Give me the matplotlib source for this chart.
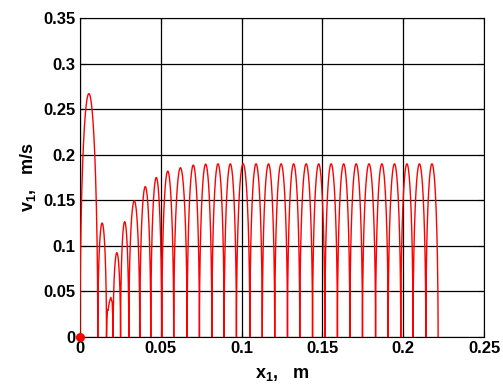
import numpy as np
import matplotlib
matplotlib.use("Agg")
import matplotlib.pyplot as plt
from matplotlib.ticker import FixedLocator

plt.rcParams['font.family'] = ['Liberation Sans', 'DejaVu Sans']
plt.rcParams['font.weight'] = 'bold'
plt.rcParams['mathtext.fontset'] = 'custom'
plt.rcParams['mathtext.rm'] = 'Liberation Sans:bold'
plt.rcParams['mathtext.bf'] = 'Liberation Sans:bold'
plt.rcParams['mathtext.default'] = 'bf'

# Positions (m) where the velocity touches zero (arch boundaries)
zeros_x = [0.0, 0.0110, 0.0164, 0.0205, 0.0251, 0.0302, 0.0370, 0.0438, 0.0506,
           0.0580, 0.0663, 0.0739, 0.0816, 0.0892, 0.0968, 0.1051, 0.1128,
           0.1205, 0.1284, 0.1360, 0.1439, 0.1515, 0.1593, 0.1670, 0.1748,
           0.1829, 0.1907, 0.1985, 0.2061, 0.2140, 0.2216]
# Peak velocity (m/s) of each arch
peaks_v = [0.267, 0.125, 0.0435, 0.0925, 0.1265, 0.1495, 0.165, 0.175, 0.182,
           0.1857, 0.1886, 0.1897, 0.190, 0.190, 0.190, 0.190, 0.190, 0.190,
           0.190, 0.190, 0.190, 0.190, 0.190, 0.190, 0.190, 0.190, 0.190,
           0.190, 0.190, 0.190]
# Third arch has a small kink; traced points
arch3_x = [0.0164, 0.01660, 0.01696, 0.01733, 0.01813, 0.01906, 0.01992, 0.0203, 0.0205]
arch3_v = [0.0, 0.018, 0.030, 0.029, 0.038, 0.0435, 0.038, 0.022, 0.0]

xs, vs = [], []
theta = np.linspace(0, np.pi, 80)
for i, h in enumerate(peaks_v):
    a, b = zeros_x[i], zeros_x[i + 1]
    if i == 2:
        xs.extend(arch3_x)
        vs.extend(arch3_v)
        continue
    mid, half = (a + b) / 2, (b - a) / 2
    xs.extend(mid - np.cos(theta) * half)
    vs.extend(h * np.sin(theta))

fig = plt.figure(figsize=(5.03, 3.85), dpi=100)
ax = fig.add_axes([80 / 503, 48 / 385, 404 / 503, 319 / 385])
ax.plot(xs, vs, color='red', lw=1.0, zorder=3)
ax.plot([0], [0], 'o', color='red', ms=5.5, zorder=4, clip_on=False)

ax.set_xlim(0, 0.25)
ax.set_ylim(0, 0.35)
ax.xaxis.set_major_locator(FixedLocator([0, 0.05, 0.1, 0.15, 0.2, 0.25]))
ax.yaxis.set_major_locator(FixedLocator([0, 0.05, 0.1, 0.15, 0.2, 0.25, 0.3, 0.35]))
ax.set_xticklabels(['0', '0.05', '0.1', '0.15', '0.2', '0.25'])
ax.set_yticklabels(['0', '0.05', '0.1', '0.15', '0.2', '0.25', '0.3', '0.35'])
ax.grid(True, color='black', lw=0.9, linestyle='-')
ax.set_axisbelow(True)
ax.tick_params(direction='in', length=4, labelsize=12, width=0.8,
               top=True, right=True, pad=3)
for lab in ax.get_xticklabels() + ax.get_yticklabels():
    lab.set_fontweight('bold')
for s in ax.spines.values():
    s.set_linewidth(0.8)
    s.set_color('black')

ax.set_xlabel('x$_1$,   m', fontsize=13, fontweight='bold', labelpad=7)
ax.set_ylabel('v$_1$,   m/s', fontsize=13, fontweight='bold', labelpad=4)

fig.savefig('out.png', dpi=100)
